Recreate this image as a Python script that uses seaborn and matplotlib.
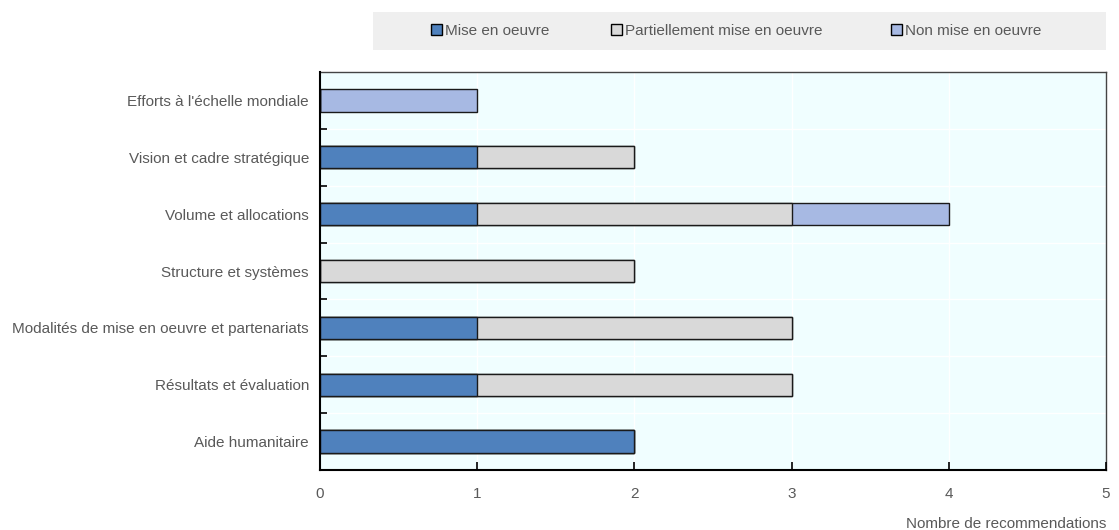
import matplotlib
matplotlib.use("Agg")
import matplotlib.pyplot as plt
import matplotlib.patches as mpatches
import seaborn as sns
import numpy as np
import pandas as pd
from matplotlib.ticker import FixedLocator

sns.set_theme(style="white")
plt.rcParams['font.family'] = ['Liberation Sans Narrow', 'Liberation Sans', 'DejaVu Sans']

categories = ["Efforts à l'échelle mondiale", "Vision et cadre stratégique", "Volume et allocations",
              "Structure et systèmes", "Modalités de mise en oeuvre et partenariats",
              "Résultats et évaluation", "Aide humanitaire"]
mise = [0, 1, 1, 0, 1, 1, 2]
partiel = [0, 1, 2, 2, 2, 2, 0]
non_mise = [1, 0, 1, 0, 0, 0, 0]
series_names = ["Mise en oeuvre", "Partiellement mise en oeuvre", "Non mise en oeuvre"]
colors = ["#4F81BD", "#D9D9D9", "#A7B9E3"]
xticks = [0, 1, 2, 3, 4, 5]
xlabel = "Nombre de recommendations"

text_color = "#595959"
fs = 11
fig = plt.figure(figsize=(11.19, 5.30), dpi=100)
ax = fig.add_axes([320/1119, 1-470/530, (1106-320)/1119, (470-72)/530])
ax.set_facecolor("#F0FEFF")
ax.set_axisbelow(False)

df = pd.DataFrame({"cat": categories, "a": mise, "b": partiel, "c": non_mise})
df["ab"] = df["a"] + df["b"]
df["abc"] = df["ab"] + df["c"]

for col, colr in [("abc", colors[2]), ("ab", colors[1]), ("a", colors[0])]:
    sns.barplot(data=df, x=col, y="cat", orient="h", color=colr, edgecolor="#1a1a1a",
                linewidth=1.0, width=0.39, saturation=1, ax=ax, zorder=3)

ax.set_xlim(0, 5)
ax.set_ylim(len(categories) - 0.5, -0.5)
ax.set_xticks(xticks)
ax.set_xticklabels([str(t) for t in xticks])
ax.set_xlabel(xlabel, color=text_color, fontsize=fs, loc="right", labelpad=12)
ax.set_ylabel("")
ax.yaxis.set_minor_locator(FixedLocator(np.arange(0.5, len(categories) - 0.5, 1)))
ax.tick_params(axis="y", which="major", length=0, labelsize=fs, labelcolor=text_color, pad=8)
ax.tick_params(axis="y", which="minor", left=True, length=5, width=1.2, direction="in", color="black")
ax.tick_params(axis="x", which="major", bottom=True, length=6, width=1.2, direction="in",
               labelsize=fs, labelcolor=text_color, pad=12, color="black")
ax.grid(False)
for x in xticks[1:-1]:
    ax.axvline(x, color="white", lw=1, zorder=0.4)
for y in np.arange(0.5, len(categories) - 0.5, 1):
    ax.axhline(y, color="white", lw=1, zorder=0.4)

for s in ["left", "bottom"]:
    ax.spines[s].set_color("black")
    ax.spines[s].set_linewidth(1.5)
    ax.spines[s].set_zorder(5)
for s in ["top", "right"]:
    ax.spines[s].set_color("#444444")
    ax.spines[s].set_linewidth(1.0)
    ax.spines[s].set_visible(True)

# legend band
fig.patches.append(mpatches.Rectangle((373/1119, 1-50/530), (1106-373)/1119, 38/530,
                                      transform=fig.transFigure, facecolor="#EFEFEF",
                                      edgecolor="none", zorder=0))
leg_x = [431, 611, 891]
for name, colr, xp in zip(series_names, colors, leg_x):
    h = mpatches.Patch(facecolor=colr, edgecolor="black", linewidth=1)
    lg = fig.legend(handles=[h], labels=[name], loc="center left",
                    bbox_to_anchor=(xp/1119, 1-31/530), frameon=False,
                    handlelength=0.7, handleheight=0.7, handletextpad=0.2,
                    borderpad=0, borderaxespad=0, fontsize=fs, labelcolor=text_color)

fig.savefig("out.png", dpi=100)
